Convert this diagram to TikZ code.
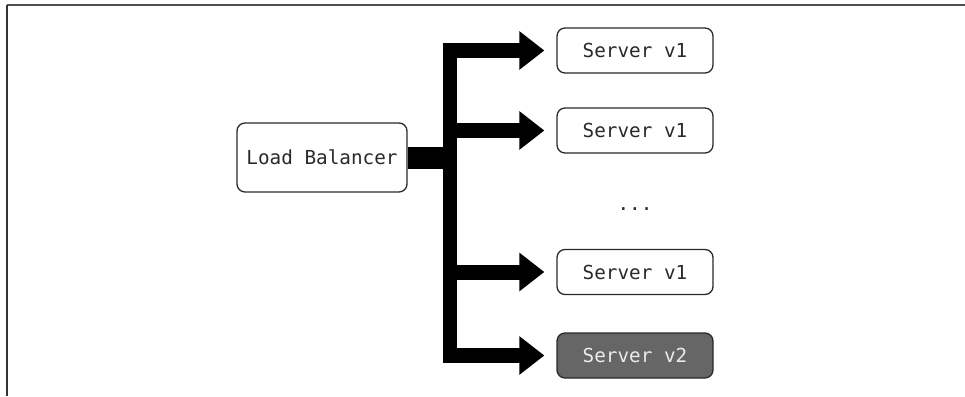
\documentclass[tikz,border=0pt]{standalone}
\usepackage{fontspec}
\setmonofont{DejaVu Sans Mono}
\usetikzlibrary{arrows.meta}
\definecolor{boxline}{HTML}{2A2A2A}
\definecolor{txt}{HTML}{2A2A2A}
\definecolor{darkfill}{HTML}{666666}
\definecolor{framecol}{HTML}{505050}
\tikzset{
  lbl/.style={text=txt, font=\ttfamily\fontsize{19.3}{23}\selectfont},
  box/.style={lbl, draw=boxline, line width=1.3pt, rounded corners=8pt, fill=white,
    inner sep=0pt},
  srv/.style={box, minimum width=156pt, minimum height=45pt},
  srvdark/.style={srv, fill=darkfill, text=white!92!black},
  branch/.style={line width=15pt, draw=black,
    -{Triangle[length=25pt,width=37pt]}, shorten >=12pt},
  busline/.style={line width=14pt, draw=black},
  stem/.style={line width=22pt, draw=black},
}
\begin{document}
\begin{tikzpicture}[x=1pt, y=-1pt]
\useasboundingbox (0,0) rectangle (965,396);
% frame
\draw[framecol, line width=2pt] (7,5.5) -- (965,5.5);
\draw[black!80, line width=1.5pt] (7,5) -- (7,396);
% nodes
\node[box, minimum width=170pt, minimum height=69pt] (lb) at (322,157.5) {Load Balancer};
\node[srv] (s1) at (635,50.5) {Server v1};
\node[srv] (s2) at (635,130.5) {Server v1};
\node[lbl] (dots) at (635,209) {...};
\node[srv] (s3) at (635,272) {Server v1};
\node[srvdark] (s4) at (635,355.5) {Server v2};
% bus
\coordinate (bus) at (450,157);
\draw[stem] (lb.east) -- (bus |- lb.east);
\draw[busline] ([yshift=7.5pt]bus |- s1.west) -- ([yshift=-7.5pt]bus |- s4.west);
\draw[branch] ([xshift=-7pt]bus |- s1.west) -- (s1.west);
\draw[branch] ([xshift=-7pt]bus |- s2.west) -- (s2.west);
\draw[branch] ([xshift=-7pt]bus |- s3.west) -- (s3.west);
\draw[branch] ([xshift=-7pt]bus |- s4.west) -- (s4.west);
\end{tikzpicture}
\end{document}
